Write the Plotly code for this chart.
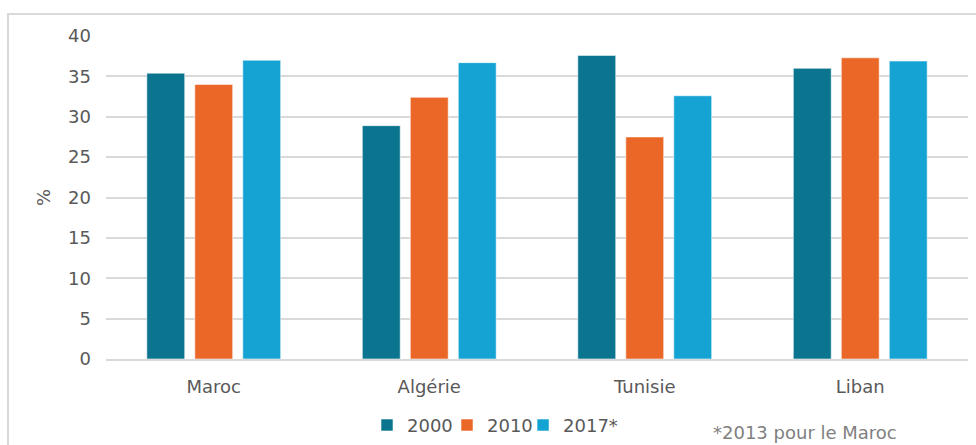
import plotly.graph_objects as go

# Countries and share (%) for each year
countries = ["Maroc", "Algérie", "Tunisie", "Liban"]
years = ["2000", "2010", "2017*"]
v2000 = [35.4, 28.9, 37.6, 36.0]
v2010 = [34.0, 32.4, 27.5, 37.3]
v2017 = [37.0, 36.7, 32.6, 36.9]
colors = ["#0B7590", "#EB6727", "#15A3D3"]
y_ticks = [0, 5, 10, 15, 20, 25, 30, 35, 40]

FONT = "DejaVu Sans"
FS = 18
TICK_COLOR = "#595959"
GRID = "#D9D9D9"

# one legend per series so each entry can be placed on its own
legend_ids = ["legend", "legend2", "legend3"]
legend_x = [0.3028, 0.3956, 0.4838]

fig = go.Figure()
for name, vals, col, lid in zip(years, [v2000, v2010, v2017], colors, legend_ids):
    fig.add_trace(go.Bar(
        x=countries, y=vals, name=name, legend=lid,
        marker=dict(color=col, line=dict(color="rgba(255,255,255,0.55)", width=1)),
    ))

legend_style = dict(
    orientation="h", xanchor="left", yanchor="middle", y=-0.2053,
    font=dict(family=FONT, size=FS, color=TICK_COLOR),
    bgcolor="rgba(0,0,0,0)",
)
legends = {lid: dict(legend_style, x=lx) for lid, lx in zip(legend_ids, legend_x)}

fig.update_layout(
    width=976, height=445,
    margin=dict(l=106, r=8, t=36, b=85.5, autoexpand=False),
    paper_bgcolor="white", plot_bgcolor="white",
    barmode="group", bargap=0.332, bargroupgap=0.21,
    font=dict(family=FONT, size=FS, color=TICK_COLOR),
    showlegend=True,
    xaxis=dict(
        showgrid=False, showline=True, linecolor=GRID, linewidth=2,
        ticks="", tickfont=dict(family=FONT, size=FS, color=TICK_COLOR),
        ticklabelstandoff=10,
    ),
    yaxis=dict(
        range=[0, 40], tickvals=y_ticks, showgrid=True, gridcolor=GRID, gridwidth=2,
        zeroline=False, showline=False, ticks="",
        tickfont=dict(family=FONT, size=FS, color=TICK_COLOR),
        ticklabelstandoff=14,
        title=dict(text="%", font=dict(family=FONT, size=FS, color=TICK_COLOR), standoff=12),
    ),
    shapes=[dict(
        type="rect", xref="paper", yref="paper",
        x0=(8 - 106) / 862, x1=(990 - 106) / 862,
        y0=(359.5 - 470) / 323.5, y1=(359.5 - 14) / 323.5,
        line=dict(color=GRID, width=2), fillcolor="rgba(0,0,0,0)", layer="below",
    )],
    annotations=[dict(
        text="*2013 pour le Maroc", xref="paper", yref="paper",
        x=(711 - 106) / 862, y=(359.5 - 433) / 323.5,
        xanchor="left", yanchor="middle", showarrow=False,
        font=dict(family=FONT, size=18, color="#7F7F7F"),
    )],
    **legends,
)

fig.write_html("out.html")
